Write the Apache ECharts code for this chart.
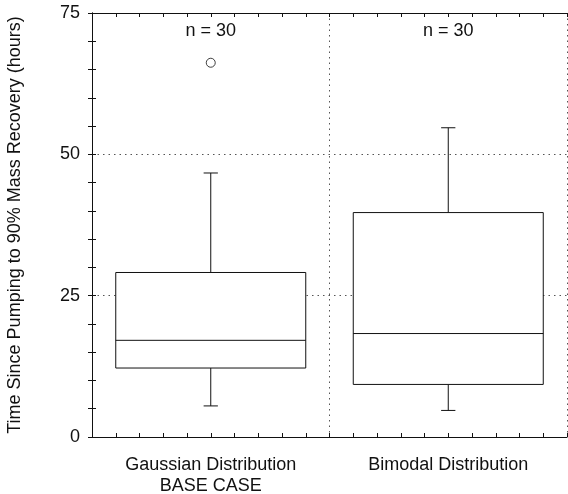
<!DOCTYPE html>
<html>
<head>
<meta charset="utf-8">
<script src="https://cdn.jsdelivr.net/npm/echarts@6/dist/echarts.min.js"></script>
<style>
  html, body { margin: 0; padding: 0; background: #fff; }
  #chart { width: 568px; height: 494px; }
</style>
</head>
<body>
<div id="chart"></div>
<script>
// Categories along the x axis
const categories = ['Gaussian Distribution\nBASE CASE', 'Bimodal Distribution'];
// Five-number summaries per category: lower whisker, Q1, median, Q3, upper whisker (hours)
const lowerWhisker = [5.5, 4.7];
const quartile1 = [12.2, 9.3];
const medians = [17.1, 18.3];
const quartile3 = [29.1, 39.7];
const upperWhisker = [46.7, 54.7];
// Outlying observations: [category index, hours]
const outliers = [[0, 66.2]];
// Sample size per category
const sampleSizes = [30, 30];
// Y axis range and labelled ticks
const yMin = 0, yMax = 75, yStep = 25;

const FONT = 'Liberation Sans, Arial, Helvetica, sans-serif';
const INK = '#111';

const boxData = categories.map((c, i) => [
  i, lowerWhisker[i], quartile1[i], medians[i], quartile3[i], upperWhisker[i], sampleSizes[i]
]);

function renderBox(params, api) {
  const i = api.value(0);
  const band = api.size([1, 0])[0];
  const half = band * 0.4;
  const capHalf = band * 0.03;
  const pLow = api.coord([i, api.value(1)]);
  const pQ1 = api.coord([i, api.value(2)]);
  const pMed = api.coord([i, api.value(3)]);
  const pQ3 = api.coord([i, api.value(4)]);
  const pHigh = api.coord([i, api.value(5)]);
  const pTop = api.coord([i, yMax]);
  const cx = pMed[0];
  const lineStyle = { stroke: INK, lineWidth: 1, fill: null };
  return {
    type: 'group',
    children: [
      { type: 'line', shape: { x1: cx, y1: pQ3[1], x2: cx, y2: pHigh[1] }, style: lineStyle },
      { type: 'line', shape: { x1: cx - capHalf, y1: pHigh[1], x2: cx + capHalf, y2: pHigh[1] }, style: lineStyle },
      { type: 'line', shape: { x1: cx, y1: pQ1[1], x2: cx, y2: pLow[1] }, style: lineStyle },
      { type: 'line', shape: { x1: cx - capHalf, y1: pLow[1], x2: cx + capHalf, y2: pLow[1] }, style: lineStyle },
      { type: 'rect', shape: { x: cx - half, y: pQ3[1], width: half * 2, height: pQ1[1] - pQ3[1] },
        style: { fill: '#fff', stroke: INK, lineWidth: 1 } },
      { type: 'line', shape: { x1: cx - half, y1: pMed[1], x2: cx + half, y2: pMed[1] }, style: lineStyle },
      { type: 'text', x: cx, y: pTop[1] + 18,
        style: { text: 'n = ' + api.value(6), fill: INK, font: '18px ' + FONT, align: 'center', verticalAlign: 'middle' } }
    ]
  };
}

const chart = echarts.init(document.getElementById('chart'), null, { renderer: 'canvas' });

const dotted = { color: '#555', width: 1, type: [1.5, 4] };
const tickStyle = { color: INK, width: 1 };

chart.setOption({
  backgroundColor: '#fff',
  animation: false,
  grid: { left: 92, right: 1, top: 13, bottom: 57, containLabel: false, outerBoundsMode: 'none' },
  xAxis: [
    {
      type: 'category',
      data: categories,
      position: 'bottom',
      boundaryGap: true,
      axisLine: { show: true, lineStyle: { color: INK, width: 1 } },
      axisTick: { show: false },
      axisLabel: { color: INK, fontFamily: FONT, fontSize: 18, lineHeight: 21, margin: 18, interval: 0 },
      splitLine: { show: true, interval: 0, lineStyle: dotted }
    },
    {
      type: 'value', min: 0, max: 20, interval: 1, position: 'bottom',
      axisLine: { show: false },
      axisTick: { show: true, inside: true, length: 4, lineStyle: tickStyle },
      axisLabel: { show: false },
      splitLine: { show: false }
    },
    {
      type: 'value', min: 0, max: 20, interval: 1, position: 'top',
      axisLine: { show: true, lineStyle: { color: INK, width: 1 } },
      axisTick: { show: true, inside: true, length: 4, lineStyle: tickStyle },
      axisLabel: { show: false },
      splitLine: { show: false }
    }
  ],
  yAxis: [
    {
      type: 'value', min: yMin, max: yMax, interval: yStep, position: 'left',
      name: 'Time Since Pumping to 90% Mass Recovery (hours)',
      nameLocation: 'middle', nameGap: 68,
      nameTextStyle: { color: INK, fontFamily: FONT, fontSize: 18 },
      axisLine: { show: true, lineStyle: { color: INK, width: 1 } },
      axisTick: { show: true, inside: true, length: 4, lineStyle: tickStyle },
      minorTick: { show: true, splitNumber: 5, length: 4, lineStyle: tickStyle },
      axisLabel: { color: INK, fontFamily: FONT, fontSize: 18, margin: 12 },
      splitLine: { show: true, lineStyle: dotted }
    },
    {
      type: 'value', min: yMin, max: yMax, interval: yStep, position: 'right',
      axisLine: { show: true, lineStyle: { color: INK, width: 1 } },
      axisTick: { show: true, inside: true, length: 4, lineStyle: tickStyle },
      minorTick: { show: true, splitNumber: 5, length: 4, lineStyle: tickStyle },
      axisLabel: { show: false },
      splitLine: { show: false }
    }
  ],
  series: [
    {
      type: 'custom',
      xAxisIndex: 0, yAxisIndex: 0,
      renderItem: renderBox,
      encode: { x: 0, y: [1, 2, 3, 4, 5] },
      data: boxData,
      silent: true,
      z: 5
    },
    {
      type: 'scatter',
      xAxisIndex: 0, yAxisIndex: 0,
      data: outliers,
      symbol: 'circle',
      symbolSize: 9,
      itemStyle: { color: '#fff', borderColor: INK, borderWidth: 1 },
      silent: true,
      z: 6
    }
  ]
});
</script>
</body>
</html>
